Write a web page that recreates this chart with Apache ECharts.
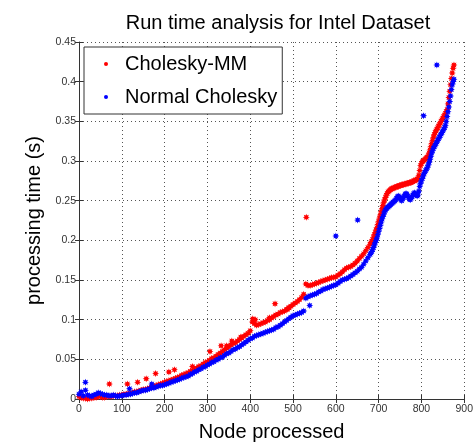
<!DOCTYPE html>
<html>
<head>
<meta charset="utf-8">
<script src="https://cdn.jsdelivr.net/npm/echarts@6/dist/echarts.min.js"></script>
<style>
html,body{margin:0;padding:0;background:#fff;}
#chart{width:476px;height:447px;}
</style>
</head>
<body>
<div id="chart"></div>
<script>
// ---- data ----
var titleText = 'Run time analysis for Intel Dataset';
var xName = 'Node processed';
var yName = 'processing time (s)';
var seriesNames = ['Cholesky-MM', 'Normal Cholesky'];
var xTicks = [0, 100, 200, 300, 400, 500, 600, 700, 800, 900];
var yTicks = [0, 0.05, 0.1, 0.15, 0.2, 0.25, 0.3, 0.35, 0.4, 0.45];

var nodesA = [0,5,10,15,20,25,30,35,40,45,50,55,60,65,70,75,80,85,90,95,100,105,110,115,120,125,130,135,140,145,150,155,160,165,170,175,180,185,190,195,200,205,210,215,220,225,230,235,240,245,250,255,260,265,270,275,280,285,290,295,300,305,310,315,320,325,330,335,340,345,350,355,360,365,370,375,380,385,390,395,400,405,410,415,420,425,430,435,440,445,450,455,460,465,470,475,480,485,490,495,500,505,510,515,520,525,530,535,540,545,550,555,560,565,570,575,580,585,590,595,600,605,610,615,620,625,630,635,640,645,650,655,660,665,670,675,680];
var nodesB = [682,684,686,688,690,692,694,696,698,700,702,704,706,708,710,712,714,716,718,720,722,724,726,728,730,732,734,736,738,740,742,744,746,748,750,752,754,756,758,760,762,764,766,768,770,772,774,776,778,780,782,784,786,788,790,792,794,796,798,800,802,804,806,808,810,812,814,816,818,820,822,824,826,828,830,832,834,836,838,840,842,844,846,848,850,852,854,856,858,860,862,864,866,868,870,872,874,876];

var cholMM_A = [0.003,0.002,0.001,0.001,0.000,0.001,0.001,0.002,0.002,0.003,0.003,0.002,0.002,0.003,0.003,0.003,0.004,0.004,0.004,0.005,0.005,0.006,0.006,0.007,0.007,0.008,0.009,0.009,0.010,0.011,0.012,0.012,0.013,0.014,0.015,0.016,0.017,0.018,0.019,0.020,0.021,0.022,0.023,0.024,0.025,0.026,0.027,0.028,0.030,0.031,0.032,0.033,0.035,0.036,0.038,0.039,0.041,0.042,0.044,0.046,0.047,0.049,0.051,0.052,0.054,0.056,0.058,0.060,0.062,0.064,0.066,0.068,0.070,0.071,0.073,0.075,0.077,0.079,0.081,0.083,0.086,0.097,0.095,0.093,0.094,0.095,0.096,0.097,0.099,0.100,0.102,0.104,0.106,0.107,0.109,0.110,0.111,0.113,0.115,0.117,0.119,0.121,0.123,0.125,0.128,0.132,0.145,0.143,0.143,0.144,0.145,0.146,0.147,0.148,0.149,0.150,0.151,0.152,0.153,0.153,0.154,0.156,0.158,0.160,0.163,0.165,0.166,0.167,0.169,0.171,0.174,0.177,0.180,0.183,0.187,0.191,0.195];
var cholMM_B = [0.197,0.199,0.201,0.204,0.207,0.210,0.213,0.216,0.220,0.224,0.228,0.232,0.236,0.240,0.244,0.248,0.251,0.254,0.257,0.259,0.261,0.262,0.263,0.264,0.265,0.265,0.266,0.266,0.267,0.267,0.268,0.268,0.268,0.269,0.269,0.269,0.270,0.270,0.270,0.271,0.271,0.271,0.272,0.272,0.272,0.273,0.273,0.273,0.274,0.274,0.275,0.275,0.276,0.276,0.277,0.278,0.282,0.288,0.294,0.297,0.299,0.300,0.301,0.302,0.303,0.304,0.305,0.307,0.310,0.314,0.318,0.322,0.326,0.330,0.333,0.336,0.338,0.340,0.342,0.344,0.346,0.348,0.350,0.352,0.354,0.356,0.358,0.360,0.362,0.365,0.372,0.380,0.388,0.396,0.404,0.411,0.417,0.421];
var normal_A = [0.006,0.009,0.004,0.011,0.005,0.004,0.003,0.005,0.006,0.008,0.007,0.006,0.005,0.005,0.004,0.004,0.005,0.004,0.003,0.004,0.004,0.005,0.005,0.006,0.006,0.007,0.008,0.008,0.009,0.010,0.011,0.011,0.012,0.013,0.014,0.014,0.015,0.016,0.017,0.017,0.018,0.019,0.020,0.021,0.022,0.023,0.024,0.025,0.026,0.027,0.028,0.029,0.031,0.032,0.034,0.035,0.037,0.038,0.040,0.041,0.043,0.044,0.046,0.047,0.049,0.050,0.052,0.053,0.055,0.057,0.058,0.060,0.062,0.063,0.065,0.066,0.068,0.070,0.072,0.074,0.076,0.077,0.079,0.080,0.081,0.082,0.083,0.084,0.085,0.086,0.087,0.088,0.090,0.091,0.093,0.095,0.097,0.099,0.101,0.103,0.105,0.106,0.107,0.108,0.109,0.111,0.127,0.129,0.130,0.131,0.132,0.133,0.135,0.136,0.138,0.139,0.140,0.141,0.142,0.143,0.144,0.146,0.148,0.150,0.151,0.152,0.153,0.155,0.157,0.159,0.161,0.164,0.166,0.170,0.174,0.178,0.182];
var normal_B = [0.184,0.186,0.188,0.191,0.194,0.197,0.200,0.203,0.207,0.211,0.215,0.219,0.223,0.227,0.230,0.233,0.236,0.238,0.240,0.241,0.242,0.243,0.244,0.245,0.246,0.247,0.248,0.249,0.250,0.251,0.253,0.255,0.256,0.255,0.253,0.251,0.250,0.252,0.254,0.256,0.258,0.259,0.258,0.256,0.254,0.252,0.251,0.253,0.255,0.257,0.259,0.260,0.259,0.257,0.256,0.257,0.262,0.268,0.272,0.275,0.278,0.281,0.284,0.286,0.288,0.290,0.292,0.295,0.298,0.302,0.306,0.310,0.313,0.316,0.318,0.320,0.322,0.324,0.326,0.328,0.330,0.332,0.334,0.336,0.338,0.340,0.342,0.345,0.350,0.356,0.362,0.368,0.375,0.382,0.390,0.396,0.400,0.403];

var cholMM_extra = [[71,0.019],[113,0.019],[137,0.021],[157,0.0255],[179,0.032],[210,0.034],[223,0.037],[265,0.041],[306,0.060],[332,0.067],[345,0.067],[357,0.073],[378,0.078],[406,0.101],[412,0.100],[445,0.1025],[458,0.120],[487,0.113],[491,0.115],[531,0.229]];
var normal_extra = [[15,0.021],[118,0.013],[170,0.019],[539,0.118],[600,0.2055],[651,0.2255],[805,0.357],[836,0.421]];

// ---- build ----
function pairs(nodes, vals){ var out=[]; for(var i=0;i<nodes.length;i++){ out.push([nodes[i], vals[i]]); } return out; }
var redData = pairs(nodesA, cholMM_A).concat(pairs(nodesB, cholMM_B)).concat(cholMM_extra);
var blueData = pairs(nodesA, normal_A).concat(pairs(nodesB, normal_B)).concat(normal_extra);

var star = 'path://M20,10 L15,12 L17.07,17.07 L12,15 L10,20 L8,15 L2.93,17.07 L5,12 L0,10 L5,8 L2.93,2.93 L8,5 L10,0 L12,5 L17.07,2.93 L15,8 Z';
var FONT = 'Liberation Sans, Arial, Helvetica, sans-serif';

var chart = echarts.init(document.getElementById('chart'), null, {renderer:'canvas'});
var gridLine = {show:true, lineStyle:{color:'#555', width:1, type:[1,3]}};
chart.setOption({
  animation:false,
  backgroundColor:'#ffffff',
  title:{text:titleText, left:273, textAlign:'center', top:8,
    textStyle:{fontFamily:FONT, fontSize:20, fontWeight:'normal', color:'#000'}},
  grid:{left:79, right:6, top:42, bottom:44, containLabel:false},
  legend:{
    orient:'vertical', left:84, top:47,
    data:[{name:seriesNames[0], icon:'circle'},{name:seriesNames[1], icon:'circle'}],
    itemWidth:4, itemHeight:4, itemGap:9,
    padding:[5,5,5,20],
    borderColor:'#333', borderWidth:1, backgroundColor:'#fff',
    textStyle:{fontFamily:FONT, fontSize:20, color:'#000', lineHeight:24, padding:[0,0,0,12]}
  },
  xAxis:[{
    type:'value', min:0, max:900, interval:100,
    name:xName, nameLocation:'middle', nameGap:23,
    nameTextStyle:{fontFamily:FONT, fontSize:20, color:'#000'},
    axisLine:{show:true, onZero:false, lineStyle:{color:'#333', width:1}},
    axisTick:{show:true, inside:true, length:4, lineStyle:{color:'#333'}},
    axisLabel:{fontFamily:FONT, fontSize:10.5, color:'#333', margin:5, formatter:function(v){return String(v);}},
    splitLine:gridLine
  },{
    type:'value', position:'top', min:0, max:900, interval:100,
    axisLine:{show:false}, axisTick:{show:true, inside:true, length:4, lineStyle:{color:'#333'}},
    axisLabel:{show:false}, splitLine:{show:false}
  }],
  yAxis:[{
    type:'value', min:0, max:0.45, interval:0.05,
    name:yName, nameLocation:'middle', nameGap:27,
    nameTextStyle:{fontFamily:FONT, fontSize:20, color:'#000'},
    axisLine:{show:true, onZero:false, lineStyle:{color:'#333', width:1}},
    axisTick:{show:true, inside:true, length:4, lineStyle:{color:'#333'}},
    axisLabel:{fontFamily:FONT, fontSize:10.5, color:'#333', margin:3, formatter:function(v){return String(+v.toFixed(2));}},
    splitLine:gridLine
  },{
    type:'value', position:'right', min:0, max:0.45, interval:0.05,
    axisLine:{show:false}, axisTick:{show:true, inside:true, length:4, lineStyle:{color:'#333'}},
    axisLabel:{show:false}, splitLine:{show:false}
  }],
  series:[
    {name:seriesNames[0], type:'scatter', data:redData, symbol:star, symbolSize:7,
      itemStyle:{color:'#ff0000', opacity:1}, xAxisIndex:0, yAxisIndex:0, z:2},
    {name:seriesNames[1], type:'scatter', data:blueData, symbol:star, symbolSize:7,
      itemStyle:{color:'#0000ff', opacity:1}, xAxisIndex:0, yAxisIndex:0, z:3}
  ]
});
</script>
</body>
</html>
